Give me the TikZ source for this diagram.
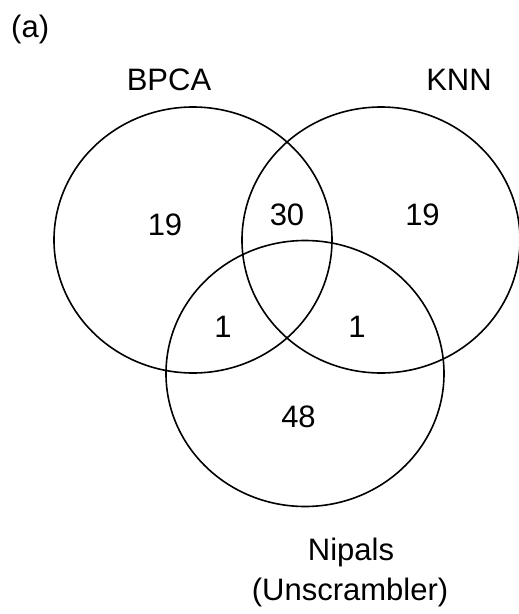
\documentclass[tikz,border=0pt]{standalone}
\usepackage{fontspec}
\setmainfont{Liberation Sans}
\usetikzlibrary{shapes.geometric}
\begin{document}
\begin{tikzpicture}[x=1pt,y=-1pt,
  lab/.style={font=\fontsize{31}{37}\selectfont, inner sep=0pt, anchor=base, text=black},
  vennset/.style={draw=black, line width=1.6pt, ellipse, minimum width=278pt, minimum height=266pt, inner sep=0pt}]
\useasboundingbox (0,0) rectangle (519,614);
% sets
\node[vennset] (bpca) at (193,240) {};
\node[vennset] (knn) at (381,240) {};
\node[vennset] (nipals) at (305,373.5) {};
% titles
\node[lab, anchor=base west] (panel) at (11,37) {(a)};
\node[lab] (tbpca) at (169,90) {BPCA};
\node[lab] (tknn) at (459,90) {KNN};
\node[lab] (tnip) at (351,560) {Nipals};
\node[lab] (tuns) at (350,600) {(Unscrambler)};
% counts
\node[lab] (n1) at (165,235) {19};
\node[lab] (n2) at (287,225) {30};
\node[lab] (n3) at (422.5,225) {19};
\node[lab] (n4) at (223,337) {1};
\node[lab] (n5) at (357,337) {1};
\node[lab] (n6) at (298.5,427) {48};
\end{tikzpicture}
\end{document}
